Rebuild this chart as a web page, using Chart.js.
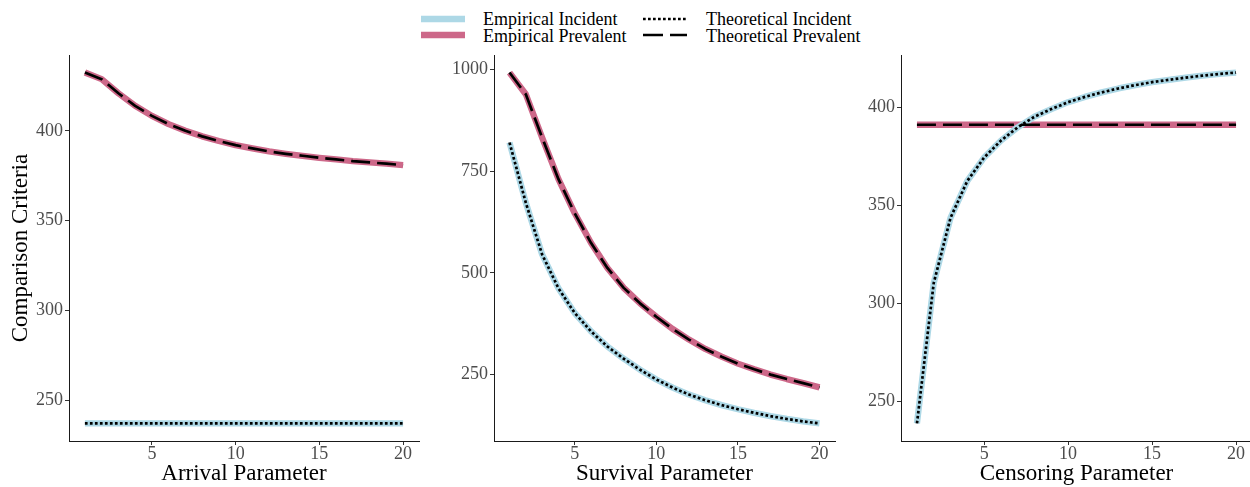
<!DOCTYPE html>
<html>
<head>
<meta charset="utf-8">
<script src="https://cdn.jsdelivr.net/npm/chart.js@4.4.1/dist/chart.umd.min.js"></script>
<style>
  html, body { margin: 0; padding: 0; background: #fff; overflow: hidden; width: 1250px; height: 487px; position: relative; }
  canvas { position: absolute; top: 0; }
  #legend { position: absolute; left: 0; top: 0; font-family: "Liberation Serif", "Times New Roman", serif; font-size: 18px; color: #000; }
  #legend svg { position: absolute; }
  #legend .lab { position: absolute; line-height: 18px; white-space: nowrap; }
</style>
</head>
<body>
<div id="legend">
  <svg style="left:421px;top:13px" width="44" height="12"><line x1="0" y1="6" x2="44" y2="6" stroke="#ADD8E6" stroke-width="6.3"/></svg>
  <div class="lab" style="left:483px;top:10px">Empirical Incident</div>
  <svg style="left:421px;top:29px" width="44" height="12"><line x1="0" y1="6" x2="44" y2="6" stroke="#CD6889" stroke-width="6.3"/></svg>
  <div class="lab" style="left:483px;top:26.5px">Empirical Prevalent</div>
  <svg style="left:643px;top:13px" width="44" height="12"><line x1="0" y1="6" x2="44" y2="6" stroke="#000" stroke-width="2.7" stroke-dasharray="2.7 2.3"/></svg>
  <div class="lab" style="left:706px;top:10px">Theoretical Incident</div>
  <svg style="left:643px;top:29px" width="44" height="12"><line x1="0" y1="6" x2="44" y2="6" stroke="#000" stroke-width="2.7" stroke-dasharray="20 7"/></svg>
  <div class="lab" style="left:706px;top:26.5px">Theoretical Prevalent</div>
</div>
<canvas id="arrival" width="425" height="487" style="left:0px"></canvas>
<canvas id="survival" width="411" height="487" style="left:430px"></canvas>
<canvas id="censoring" width="410" height="487" style="left:845px"></canvas>
<script>
'use strict';

var params = [1, 2, 3, 4, 5, 6, 7, 8, 9, 10, 11, 12, 13, 14, 15, 16, 17, 18, 19, 20];
var xTicks = [5, 10, 15, 20];

// arrival parameter panel
var arrivalEmpInc = [237.2, 237.2, 237.2, 237.2, 237.2, 237.2, 237.2, 237.2, 237.2, 237.2,
                     237.2, 237.2, 237.2, 237.2, 237.2, 237.2, 237.2, 237.2, 237.2, 237.2];
var arrivalEmpPrev = [432.4, 428.7, 420.9, 413.9, 408.3, 403.7, 400.0, 396.9, 394.3, 392.0,
                      390.2, 388.5, 387.2, 386.1, 385.0, 384.1, 383.1, 382.4, 381.7, 380.9];
var arrivalTheoInc = arrivalEmpInc.slice();
var arrivalTheoPrev = arrivalEmpPrev.slice();
var arrivalTicks = [250, 300, 350, 400];

// survival parameter panel
var survivalEmpInc = [820, 672, 545, 462, 401, 356, 319, 289, 262, 238,
                      218, 201, 187, 175, 165, 156, 148, 141, 135, 130];
var survivalEmpPrev = [991.8, 938.5, 832, 730, 646, 573, 512, 463, 425, 392,
                       362, 336, 313, 294, 277, 263, 250, 239, 229, 218.5];
var survivalTheoInc = survivalEmpInc.slice();
var survivalTheoPrev = survivalEmpPrev.slice();
var survivalTicks = [250, 500, 750, 1000];

// censoring parameter panel
var censoringEmpInc = [238.9, 310.5, 343.7, 362.5, 374.4, 383.0, 389.8, 395.2, 399.1, 402.6,
                       405.3, 407.6, 409.6, 411.3, 412.8, 414.0, 415.1, 416.1, 417.0, 417.7];
var censoringEmpPrev = [391.1, 391.1, 391.1, 391.1, 391.1, 391.1, 391.1, 391.1, 391.1, 391.1,
                        391.1, 391.1, 391.1, 391.1, 391.1, 391.1, 391.1, 391.1, 391.1, 391.1];
var censoringTheoInc = censoringEmpInc.slice();
var censoringTheoPrev = censoringEmpPrev.slice();
var censoringTicks = [250, 300, 350, 400];

var BLUE = '#ADD8E6';
var PINK = '#CD6889';
var SERIF = '"Liberation Serif", "Times New Roman", serif';

function points(ys) {
    return params.map(function(x, i) { return {x: x, y: ys[i]}; });
}

// ggplot style 5% expansion around the data
function expand(values) {
    var lo = Math.min.apply(null, values), hi = Math.max.apply(null, values);
    var pad = (hi - lo) * 0.05;
    return [lo - pad, hi + pad];
}

function fixedTicks(list) {
    return function(scale) {
        scale.ticks = list.map(function(v) { return {value: v}; });
    };
}

function plain(value) {
    return String(value);
}

function makePanel(id, cfg) {
    var xr = expand(params);
    var yr = expand([].concat(cfg.empInc, cfg.empPrev, cfg.theoInc, cfg.theoPrev));
    var line = {pointRadius: 0, tension: 0, fill: false, borderCapStyle: 'butt', borderJoinStyle: 'round'};

    var datasets = [
        Object.assign({label: 'Theoretical Incident', data: points(cfg.theoInc),
                       borderColor: '#000', borderWidth: 2.7, borderDash: [2.7, 2.3]}, line),
        Object.assign({label: 'Theoretical Prevalent', data: points(cfg.theoPrev),
                       borderColor: '#000', borderWidth: 2.7, borderDash: [19, 7]}, line),
        Object.assign({label: 'Empirical Incident', data: points(cfg.empInc),
                       borderColor: BLUE, borderWidth: 6.3}, line),
        Object.assign({label: 'Empirical Prevalent', data: points(cfg.empPrev),
                       borderColor: PINK, borderWidth: 6.3}, line)
    ];

    return new Chart(document.getElementById(id), {
        type: 'line',
        data: {datasets: datasets},
        options: {
            responsive: false,
            animation: false,
            events: [],
            layout: {padding: {top: 55, left: 0, right: cfg.padRight, bottom: 0}},
            plugins: {legend: {display: false}, tooltip: {enabled: false}},
            scales: {
                x: {
                    type: 'linear',
                    min: xr[0],
                    max: xr[1],
                    afterBuildTicks: fixedTicks(xTicks),
                    afterFit: function(s) { s.height = 46; },
                    grid: {drawOnChartArea: false, drawTicks: true, tickLength: 4, tickColor: '#333'},
                    border: {color: '#1a1a1a', width: 1},
                    ticks: {color: '#4D4D4D', padding: 0, maxRotation: 0, autoSkip: false, callback: plain,
                            font: {family: SERIF, size: 18, lineHeight: 1}},
                    title: {display: true, text: cfg.xTitle, color: '#000',
                            font: {family: SERIF, size: 23, lineHeight: 1.1}, padding: {top: 0, bottom: 0}}
                },
                y: {
                    type: 'linear',
                    min: yr[0],
                    max: yr[1],
                    afterBuildTicks: fixedTicks(cfg.yTicks),
                    afterFit: function(s) { s.width = cfg.yWidth; },
                    grid: {drawOnChartArea: false, drawTicks: true, tickLength: 4, tickColor: '#333'},
                    border: {color: '#1a1a1a', width: 1},
                    ticks: {color: '#4D4D4D', padding: 2, autoSkip: false, callback: plain,
                            font: {family: SERIF, size: 18, lineHeight: 1}},
                    title: {display: !!cfg.yTitle, text: cfg.yTitle || '', color: '#000',
                            font: {family: SERIF, size: 23}, padding: {top: 7, bottom: 0}}
                }
            }
        }
    });
}

makePanel('arrival', {
    xTitle: 'Arrival Parameter', yTitle: 'Comparison Criteria', yTicks: arrivalTicks,
    yWidth: 69, padRight: 6,
    empInc: arrivalEmpInc, empPrev: arrivalEmpPrev, theoInc: arrivalTheoInc, theoPrev: arrivalTheoPrev
});
makePanel('survival', {
    xTitle: 'Survival Parameter', yTicks: survivalTicks,
    yWidth: 64, padRight: 6,
    empInc: survivalEmpInc, empPrev: survivalEmpPrev, theoInc: survivalTheoInc, theoPrev: survivalTheoPrev
});
makePanel('censoring', {
    xTitle: 'Censoring Parameter', yTicks: censoringTicks,
    yWidth: 56, padRight: 3,
    empInc: censoringEmpInc, empPrev: censoringEmpPrev, theoInc: censoringTheoInc, theoPrev: censoringTheoPrev
});
</script>
</body>
</html>
